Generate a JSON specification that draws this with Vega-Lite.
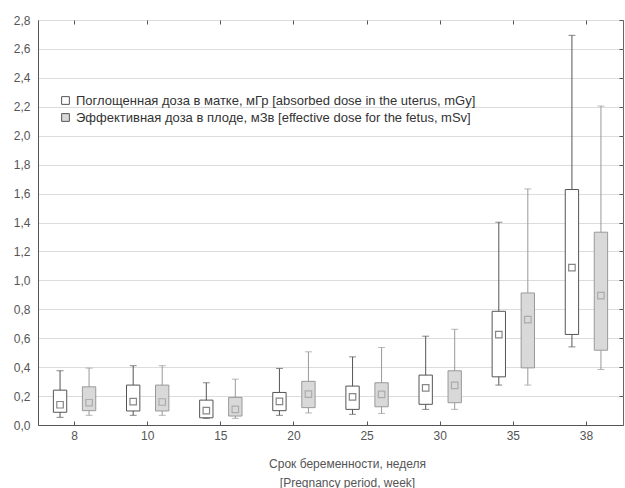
{
  "$schema": "https://vega.github.io/schema/vega-lite/v6.json",
  "width": 585,
  "height": 405,
  "autosize": {"type": "none"},
  "padding": {"left": 38, "top": 20, "right": 2, "bottom": 63},
  "background": "white",
  "config": {
    "view": {"stroke": "#666", "strokeWidth": 1},
    "font": "Liberation Sans"
  },
  "data": {
    "values": [
      {"week": 8, "series": "Поглощенная доза в матке, мГр [absorbed dose in the uterus, mGy]", "low": 0.053, "q1": 0.088, "mean": 0.14, "q3": 0.241, "high": 0.375},
      {"week": 8, "series": "Эффективная доза в плоде, мЗв [effective dose for the fetus, mSv]", "low": 0.067, "q1": 0.099, "mean": 0.154, "q3": 0.264, "high": 0.393},
      {"week": 10, "series": "Поглощенная доза в матке, мГр [absorbed dose in the uterus, mGy]", "low": 0.067, "q1": 0.097, "mean": 0.161, "q3": 0.276, "high": 0.41},
      {"week": 10, "series": "Эффективная доза в плоде, мЗв [effective dose for the fetus, mSv]", "low": 0.067, "q1": 0.097, "mean": 0.159, "q3": 0.276, "high": 0.41},
      {"week": 15, "series": "Поглощенная доза в матке, мГр [absorbed dose in the uterus, mGy]", "low": 0.046, "q1": 0.05, "mean": 0.099, "q3": 0.172, "high": 0.292},
      {"week": 15, "series": "Эффективная доза в плоде, мЗв [effective dose for the fetus, mSv]", "low": 0.046, "q1": 0.062, "mean": 0.108, "q3": 0.191, "high": 0.317},
      {"week": 20, "series": "Поглощенная доза в матке, мГр [absorbed dose in the uterus, mGy]", "low": 0.067, "q1": 0.099, "mean": 0.163, "q3": 0.225, "high": 0.391},
      {"week": 20, "series": "Эффективная доза в плоде, мЗв [effective dose for the fetus, mSv]", "low": 0.083, "q1": 0.12, "mean": 0.214, "q3": 0.302, "high": 0.506},
      {"week": 25, "series": "Поглощенная доза в матке, мГр [absorbed dose in the uterus, mGy]", "low": 0.074, "q1": 0.108, "mean": 0.195, "q3": 0.269, "high": 0.471},
      {"week": 25, "series": "Эффективная доза в плоде, мЗв [effective dose for the fetus, mSv]", "low": 0.08, "q1": 0.126, "mean": 0.212, "q3": 0.292, "high": 0.536},
      {"week": 30, "series": "Поглощенная доза в матке, мГр [absorbed dose in the uterus, mGy]", "low": 0.108, "q1": 0.143, "mean": 0.257, "q3": 0.345, "high": 0.614},
      {"week": 30, "series": "Эффективная доза в плоде, мЗв [effective dose for the fetus, mSv]", "low": 0.108, "q1": 0.154, "mean": 0.274, "q3": 0.375, "high": 0.662},
      {"week": 35, "series": "Поглощенная доза в матке, мГр [absorbed dose in the uterus, mGy]", "low": 0.276, "q1": 0.333, "mean": 0.625, "q3": 0.786, "high": 1.402},
      {"week": 35, "series": "Эффективная доза в плоде, мЗв [effective dose for the fetus, mSv]", "low": 0.276, "q1": 0.395, "mean": 0.729, "q3": 0.913, "high": 1.632},
      {"week": 38, "series": "Поглощенная доза в матке, мГр [absorbed dose in the uterus, mGy]", "low": 0.54, "q1": 0.626, "mean": 1.088, "q3": 1.628, "high": 2.694},
      {"week": 38, "series": "Эффективная доза в плоде, мЗв [effective dose for the fetus, mSv]", "low": 0.384, "q1": 0.517, "mean": 0.894, "q3": 1.333, "high": 2.205}
    ]
  },
  "encoding": {
    "x": {"field": "week", "type": "ordinal", "scale": {"paddingInner": 0, "paddingOuter": 0}},
    "xOffset": {"field": "series", "type": "nominal", "scale": {"paddingInner": 0.54, "paddingOuter": 0.53}}
  },
  "resolve": {"axis": {"x": "independent", "y": "independent"}},
  "layer": [
    {
      "mark": {"type": "rule", "strokeWidth": 1},
      "encoding": {
        "x": {"field": "week", "type": "ordinal", "axis": {
          "orient": "bottom", "labelAngle": 0, "labelFont": "Liberation Sans", "labelFontSize": 12, "labelColor": "#555",
          "labelPadding": 9, "domainColor": "#555", "tickColor": "#555", "tickSize": -4,
          "title": ["Срок беременности, неделя", "[Pregnancy period, week]"],
          "titleFont": "Liberation Sans", "titleFontSize": 12, "titleFontWeight": "normal", "titleColor": "#555",
          "titlePadding": 17, "titleLineHeight": 19, "titleX": 309, "titleAlign": "center"
        }},
        "y": {"field": "low", "type": "quantitative", "scale": {"domain": [0, 2.8], "nice": false}, "axis": {
          "orient": "left", "values": [0, 0.2, 0.4, 0.6, 0.8, 1.0, 1.2, 1.4, 1.6, 1.8, 2.0, 2.2, 2.4, 2.6, 2.8],
          "labelExpr": "replace(format(datum.value, '.1f'), '.', ',')",
          "labelFont": "Liberation Sans", "labelFontSize": 12, "labelColor": "#555", "labelPadding": 8,
          "ticks": false, "domainColor": "#555", "gridColor": "#dcdcdc", "grid": true, "title": null
        }},
        "y2": {"field": "high"},
        "stroke": {"field": "series", "type": "nominal", "scale": {"range": ["#555555", "#999999"]}, "legend": null}
      }
    },
    {
      "mark": {"type": "tick", "size": 7, "thickness": 1},
      "encoding": {
        "x": {"field": "week", "type": "ordinal", "axis": null},
        "y": {"field": "high", "type": "quantitative", "axis": null},
        "color": {"field": "series", "type": "nominal", "scale": {"range": ["#555555", "#999999"]}, "legend": null}
      }
    },
    {
      "mark": {"type": "tick", "size": 7, "thickness": 1},
      "encoding": {
        "x": {"field": "week", "type": "ordinal", "axis": null},
        "y": {"field": "low", "type": "quantitative", "axis": null},
        "color": {"field": "series", "type": "nominal", "scale": {"range": ["#555555", "#999999"]}, "legend": null}
      }
    },
    {
      "mark": {"type": "bar", "strokeWidth": 1},
      "encoding": {
        "x": {"field": "week", "type": "ordinal", "axis": {
          "orient": "top", "labels": false, "title": null, "domain": false, "tickSize": -4, "tickColor": "#555"
        }},
        "y": {"field": "q1", "type": "quantitative", "axis": {
          "orient": "right", "labels": false, "title": null, "domain": false, "grid": false, "tickSize": -4, "tickColor": "#555",
          "values": [0, 0.2, 0.4, 0.6, 0.8, 1.0, 1.2, 1.4, 1.6, 1.8, 2.0, 2.2, 2.4, 2.6, 2.8]
        }},
        "y2": {"field": "q3"},
        "fill": {"field": "series", "type": "nominal", "scale": {"range": ["#ffffff", "#d9d9d9"]}, "legend": {
          "orient": "none", "legendX": 21, "legendY": 74, "title": null, "symbolType": "square", "symbolSize": 60,
          "symbolStrokeColor": "#555", "symbolStrokeWidth": 1, "labelFont": "Liberation Sans", "labelFontSize": 13,
          "labelColor": "#333", "labelLimit": 500, "rowPadding": 3, "labelOffset": 4
        }},
        "stroke": {"field": "series", "type": "nominal", "scale": {"range": ["#555555", "#999999"]}, "legend": null}
      }
    },
    {
      "mark": {"type": "point", "shape": "square", "size": 42, "filled": false, "strokeWidth": 1.2},
      "encoding": {
        "x": {"field": "week", "type": "ordinal", "axis": null},
        "y": {"field": "mean", "type": "quantitative", "axis": null},
        "stroke": {"field": "series", "type": "nominal", "scale": {"range": ["#555555", "#777777"]}, "legend": null}
      }
    }
  ]
}
